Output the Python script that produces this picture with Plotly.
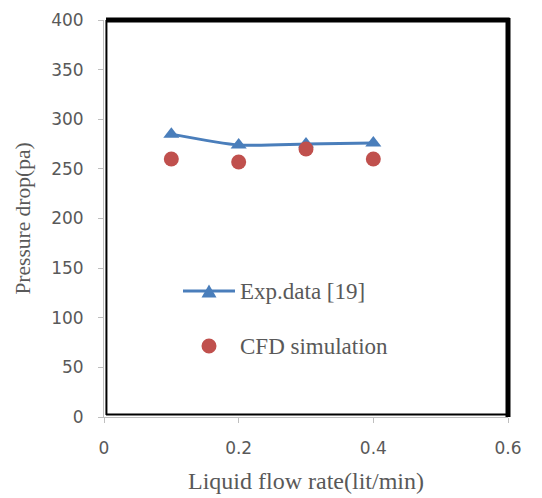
import plotly.graph_objects as go

flow = [0.1, 0.2, 0.3, 0.4]
exp_data = [285, 274, 275, 276]
cfd_data = [260, 257, 270, 260]
x_ticks = [0, 0.2, 0.4, 0.6]
x_ticktext = ["0", "0.2", "0.4", "0.6"]
y_ticks = [0, 50, 100, 150, 200, 250, 300, 350, 400]
series_names = ["Exp.data [19]", "CFD simulation"]

BLUE = "#4A7EBB"
RED = "#C0504D"
GRAY_TXT = "#595959"

fig = go.Figure()
fig.add_trace(go.Scatter(
    x=flow, y=exp_data, name=series_names[0], mode="lines+markers",
    line=dict(color=BLUE, width=3, shape="spline", smoothing=0.6),
    marker=dict(symbol="triangle-up", size=14, color=BLUE),
    showlegend=False,
))
fig.add_trace(go.Scatter(
    x=flow, y=cfd_data, name=series_names[1], mode="markers",
    marker=dict(symbol="circle", size=15, color=RED),
    showlegend=False,
))

# frame lines
fig.add_shape(type="line", xref="paper", yref="paper", x0=0.005, x1=1.004, y0=1.0, y1=1.0,
              line=dict(color="black", width=5))
fig.add_shape(type="line", xref="paper", yref="paper", x0=1.0, x1=1.0, y0=0.0, y1=1.005,
              line=dict(color="black", width=5))
fig.add_shape(type="line", xref="paper", yref="paper", x0=0.006, x1=0.006, y0=0.005, y1=1.0,
              line=dict(color="black", width=2))
fig.add_shape(type="line", xref="paper", yref="paper", x0=0.005, x1=1.0, y0=0.006, y1=0.006,
              line=dict(color="black", width=2))

# manual legend (paper coordinates)
PW, PH = 404.0, 397.0
def px(xp):
    return (xp - 104) / PW
def py(yp):
    return (417 - yp) / PH

ly1, ly2 = py(291), py(346)
cx = px(209)
fig.add_shape(type="line", xref="paper", yref="paper", x0=px(183), x1=px(235), y0=ly1, y1=ly1,
              line=dict(color=BLUE, width=3))
tw, th = 7.5 / PW, 6.5 / PH
fig.add_shape(type="path", xref="paper", yref="paper",
              path=f"M {cx - tw} {ly1 - th} L {cx + tw} {ly1 - th} L {cx} {ly1 + th} Z",
              fillcolor=BLUE, line=dict(color=BLUE, width=0))
r = 7.5
fig.add_shape(type="circle", xref="paper", yref="paper",
              x0=cx - r / PW, x1=cx + r / PW, y0=ly2 - r / PH, y1=ly2 + r / PH,
              fillcolor=RED, line=dict(color=RED, width=0))
for name, yy in zip(series_names, [ly1, ly2]):
    fig.add_annotation(x=px(238), y=yy, xref="paper", yref="paper", text=name,
                       showarrow=False, xanchor="left", yanchor="middle",
                       font=dict(family="Liberation Serif", size=23, color=GRAY_TXT))

tickfont = dict(family="DejaVu Sans", size=17, color=GRAY_TXT)
fig.update_layout(
    width=542, height=498,
    margin=dict(l=104, r=34, t=20, b=81, autoexpand=False),
    paper_bgcolor="white", plot_bgcolor="white",
    showlegend=False,
    xaxis=dict(
        range=[0, 0.6], tickvals=x_ticks, ticktext=x_ticktext, automargin=False,
        showgrid=False, zeroline=False, showline=True, linecolor="#BFBFBF", linewidth=1,
        ticks="outside", ticklen=5, tickcolor="#BFBFBF", tickfont=tickfont,
        ticklabelstandoff=11,
        title=dict(text="Liquid flow rate(lit/min)", standoff=14,
                   font=dict(family="Liberation Serif", size=24, color=GRAY_TXT)),
    ),
    yaxis=dict(
        range=[0, 400], tickvals=y_ticks, automargin=False,
        showgrid=False, zeroline=False, showline=True, linecolor="#BFBFBF", linewidth=1,
        ticks="outside", ticklen=5, tickcolor="#BFBFBF", tickfont=tickfont,
        ticklabelstandoff=11,
        title=dict(text="Pressure drop(pa)", standoff=14,
                   font=dict(family="Liberation Serif", size=21.5, color=GRAY_TXT)),
    ),
)

fig.write_html("out.html")
